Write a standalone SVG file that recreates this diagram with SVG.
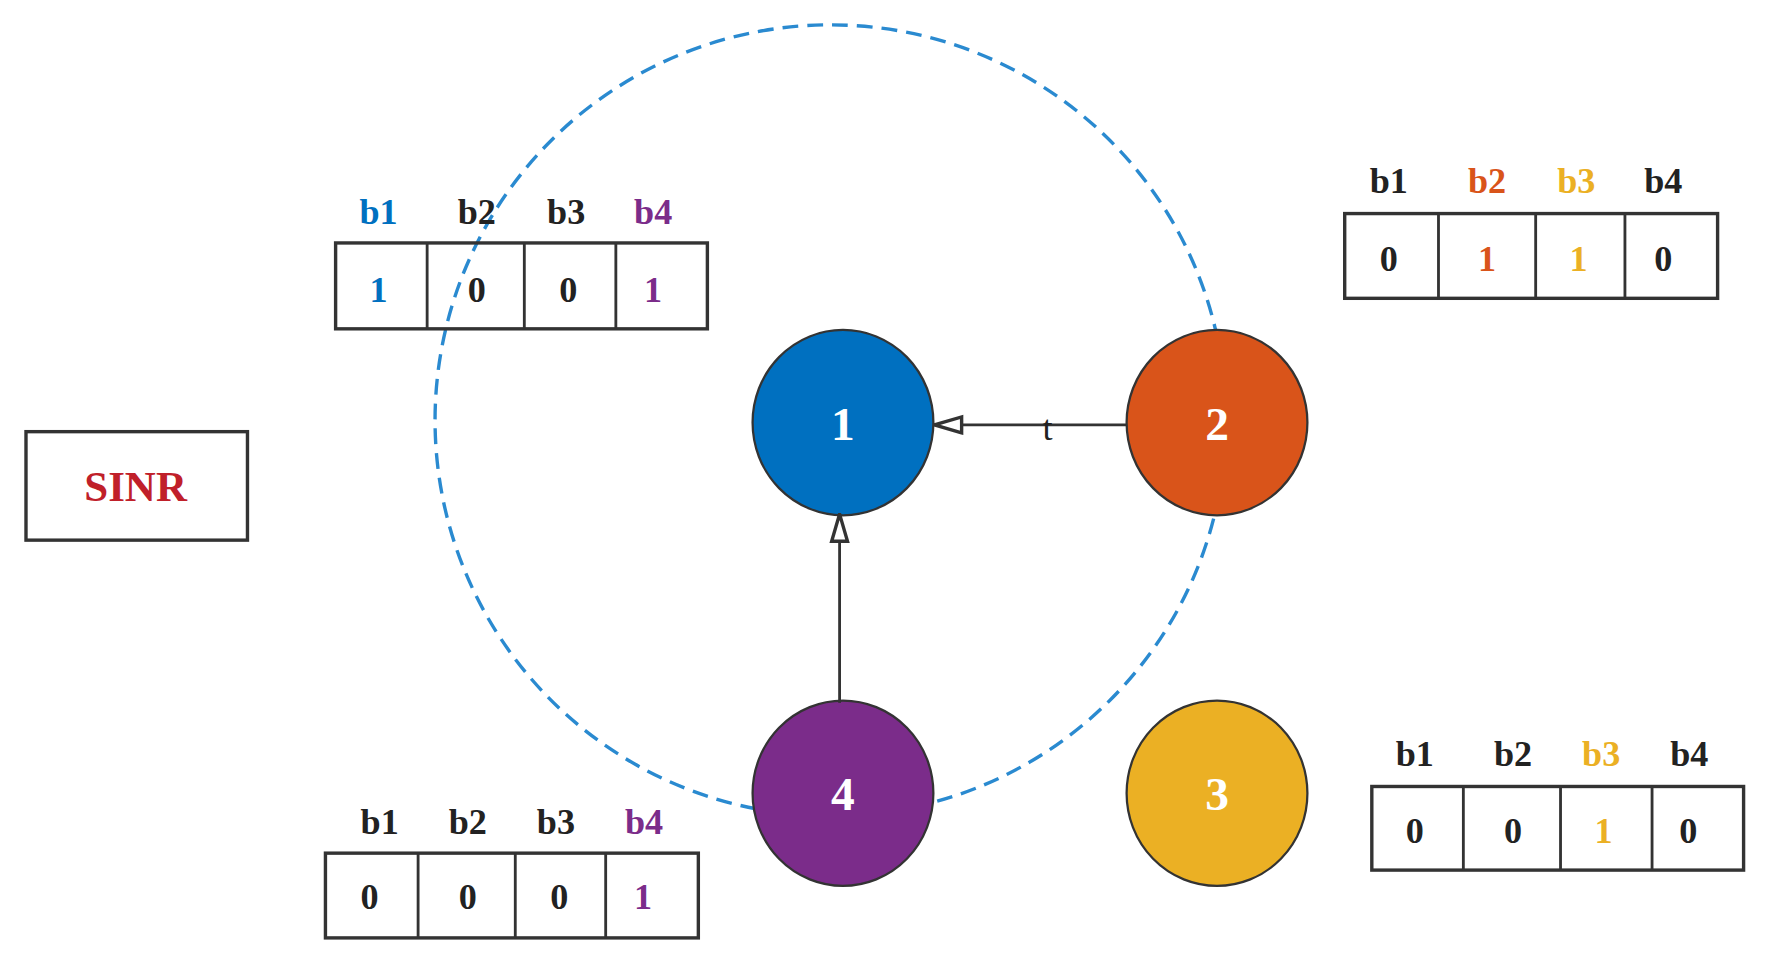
<svg xmlns="http://www.w3.org/2000/svg" width="1765" height="962" viewBox="0 0 1765 962">
<style>
.tb{fill:none;stroke:#333;stroke-width:3}
.ln{stroke:#333;stroke-width:2.5}
.t{font-family:"Liberation Serif",serif;font-weight:bold;font-size:32px;text-anchor:middle;fill:#222}
.n{stroke:#333;stroke-width:2}
.nl{font-family:"Liberation Serif",serif;font-weight:bold;font-size:42px;text-anchor:middle;fill:#fff}
.blue{fill:#0070c0}.or{fill:#d9541a}.ye{fill:#ebb024}.pu{fill:#7b2c8a}
</style>
<defs>
<marker id="ah" markerWidth="28" markerHeight="20" refX="27" refY="10" orient="auto" markerUnits="userSpaceOnUse">
<path d="M3,3 L27,10 L3,17 Z" fill="#fff" stroke="#333" stroke-width="3"/>
</marker>
</defs>
<rect width="1765" height="962" fill="#fff"/>
<g transform="scale(1.13)">
<circle id="range" cx="735" cy="372" r="350" fill="none" stroke="#2a8ad0" stroke-width="3" stroke-dasharray="14 8"/>
<g id="node1"><ellipse cx="746" cy="374" rx="80" ry="82" class="n blue"/><text x="746" y="389" class="nl">1</text></g>
<g id="node2"><ellipse cx="1077" cy="374" rx="80" ry="82" class="n or"/><text x="1077" y="389" class="nl">2</text></g>
<g id="node3"><ellipse cx="1077" cy="702" rx="80" ry="82" class="n ye"/><text x="1077" y="717" class="nl">3</text></g>
<g id="node4"><ellipse cx="746" cy="702" rx="80" ry="82" class="n pu"/><text x="746" y="717" class="nl">4</text></g>
<g id="connectors">
<line x1="997" y1="376" x2="827" y2="376" class="ln" marker-end="url(#ah)"/>
<text x="927" y="389" style="font-family:'Liberation Serif',serif;font-size:32px;text-anchor:middle;fill:#222">t</text>
<line x1="743" y1="622" x2="743" y2="455" class="ln" marker-end="url(#ah)"/>
</g>
<g id="sinr"><rect x="23" y="382" width="196" height="96" class="tb"/><text x="120" y="443" class="t" style="fill:#c0202a;font-size:38px">SINR</text></g>
<g id="table1">
<rect x="297" y="215" width="329" height="76" class="tb"/>
<path d="M378 215V291M464 215V291M545 215V291" class="ln"/>
<text x="335" y="198" class="t" style="fill:#0070c0">b1</text><text x="422" y="198" class="t">b2</text><text x="501" y="198" class="t">b3</text><text x="578" y="198" class="t" style="fill:#7b2c8a">b4</text>
<text x="335" y="267" class="t" style="fill:#0070c0">1</text><text x="422" y="267" class="t">0</text><text x="503" y="267" class="t">0</text><text x="578" y="267" class="t" style="fill:#7b2c8a">1</text>
</g>
<g id="table2">
<rect x="1190" y="189" width="330" height="75" class="tb"/>
<path d="M1273 189V264M1359 189V264M1438 189V264" class="ln"/>
<text x="1229" y="171" class="t">b1</text><text x="1316" y="171" class="t" style="fill:#d9541a">b2</text><text x="1395" y="171" class="t" style="fill:#ebb024">b3</text><text x="1472" y="171" class="t">b4</text>
<text x="1229" y="240" class="t">0</text><text x="1316" y="240" class="t" style="fill:#d9541a">1</text><text x="1397" y="240" class="t" style="fill:#ebb024">1</text><text x="1472" y="240" class="t">0</text>
</g>
<g id="table3">
<rect x="1214" y="696" width="329" height="74" class="tb"/>
<path d="M1295 696V770M1381 696V770M1462 696V770" class="ln"/>
<text x="1252" y="678" class="t">b1</text><text x="1339" y="678" class="t">b2</text><text x="1417" y="678" class="t" style="fill:#ebb024">b3</text><text x="1495" y="678" class="t">b4</text>
<text x="1252" y="746" class="t">0</text><text x="1339" y="746" class="t">0</text><text x="1419" y="746" class="t" style="fill:#ebb024">1</text><text x="1494" y="746" class="t">0</text>
</g>
<g id="table4">
<rect x="288" y="755" width="330" height="75" class="tb"/>
<path d="M370 755V830M456 755V830M536 755V830" class="ln"/>
<text x="336" y="738" class="t">b1</text><text x="414" y="738" class="t">b2</text><text x="492" y="738" class="t">b3</text><text x="570" y="738" class="t" style="fill:#7b2c8a">b4</text>
<text x="327" y="804" class="t">0</text><text x="414" y="804" class="t">0</text><text x="495" y="804" class="t">0</text><text x="569" y="804" class="t" style="fill:#7b2c8a">1</text>
</g>
</g>
</svg>
